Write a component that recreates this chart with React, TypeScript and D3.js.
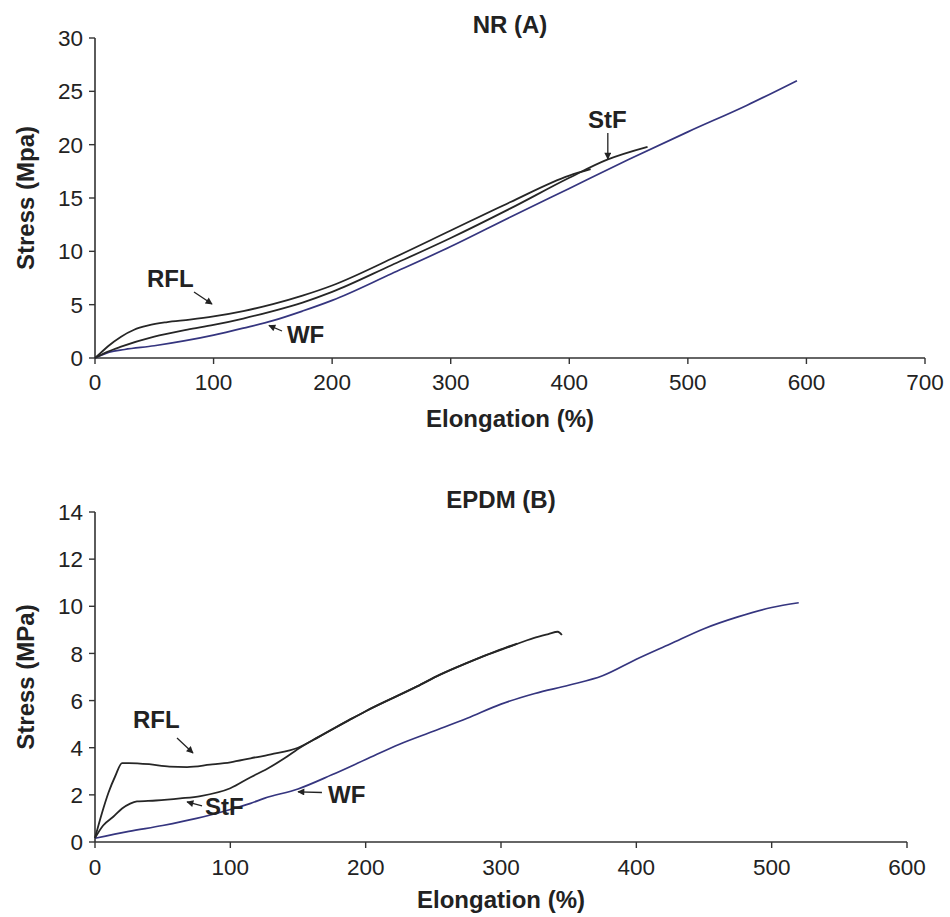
import React from 'react';
import * as d3 from 'd3';

type Pt = [number, number];

// NR (A) – stress (MPa) vs elongation (%)
const nrRFL: Pt[] = [[0,0],[5,0.5],[11,1.1],[22,2.0],[33,2.65],[45,3.05],[60,3.35],[80,3.6],[100,3.9],[125,4.4],[150,5.05],[175,5.85],[200,6.8],[250,9.3],[300,11.95],[350,14.6],[400,17.1],[418,17.7]];
const nrStF: Pt[] = [[0,0],[11,0.6],[22,1.06],[50,2.0],[78,2.65],[100,3.1],[125,3.7],[150,4.4],[175,5.2],[200,6.2],[250,8.7],[300,11.25],[350,14.0],[400,16.9],[432,18.6],[466,19.8]];
const nrWF: Pt[] = [[0,0],[12,0.55],[25,0.8],[50,1.15],[75,1.6],[100,2.15],[125,2.8],[150,3.5],[175,4.4],[200,5.4],[250,7.9],[300,10.45],[350,13.2],[400,15.9],[450,18.6],[500,21.2],[550,23.7],[592,26.0]];

// EPDM (B)
const epRFL: Pt[] = [[0,0.17],[5,1.2],[10,2.1],[15,2.8],[20,3.35],[25,3.35],[40,3.3],[55,3.2],[68,3.18],[85,3.28],[100,3.38],[115,3.55],[130,3.72],[150,4.0],[165,4.45],[188,5.18],[200,5.55],[238,6.6],[255,7.1],[275,7.6],[290,7.95],[305,8.28],[312,8.42]];
const epStF: Pt[] = [[0,0.17],[6,0.7],[13.5,1.07],[20,1.42],[26,1.63],[31,1.72],[45,1.76],[63,1.85],[78,1.95],[100,2.28],[115,2.75],[127,3.1],[140,3.55],[152,4.02],[165,4.45],[188,5.18],[200,5.55],[238,6.6],[255,7.1],[275,7.6],[290,7.95],[307,8.3],[324,8.65],[335,8.82],[342,8.92],[345,8.78]];
const epWF: Pt[] = [[0,0.16],[25,0.45],[50,0.7],[75,1.0],[100,1.38],[115,1.64],[125,1.85],[150,2.25],[175,2.85],[200,3.5],[225,4.15],[250,4.7],[275,5.25],[300,5.85],[325,6.3],[350,6.65],[375,7.05],[400,7.75],[425,8.4],[450,9.05],[475,9.55],[500,9.95],[520,10.15]];

const nrXTicks = [0,100,200,300,400,500,600,700];
const nrYTicks = [0,5,10,15,20,25,30];
const epXTicks = [0,100,200,300,400,500,600];
const epYTicks = [0,2,4,6,8,10,12,14];

// annotations: label, text anchor point (data units), arrow from -> to (data units)
type Ann = { text: string; tx: number; ty: number; ax1: number; ay1: number; ax2: number; ay2: number };
const nrAnn: Ann[] = [
  { text: 'RFL', tx: 43.8, ty: 6.66, ax1: 83.5, ay1: 6.19, ax2: 98.7, ay2: 5.06 },
  { text: 'WF', tx: 161.9, ty: 1.41, ax1: 157.7, ay1: 2.53, ax2: 146.7, ay2: 3.05 },
  { text: 'StF', tx: 415.7, ty: 21.56, ax1: 432.5, ay1: 21.1, ax2: 432.5, ay2: 18.66 },
];
const epAnn: Ann[] = [
  { text: 'RFL', tx: 28.1, ty: 4.84, ax1: 60.6, ay1: 4.41, ax2: 72.4, ay2: 3.78 },
  { text: 'StF', tx: 81.3, ty: 1.15, ax1: 79.1, ay1: 1.53, ax2: 68, ay2: 1.7 },
  { text: 'WF', tx: 172.2, ty: 1.65, ax1: 167.7, ay1: 2.1, ax2: 150, ay2: 2.13 },
];

const FONT = '"Liberation Sans", Arial, Helvetica, sans-serif';
const BLACK = '#262626';
const BLUE = '#35357f';
const TICK_FS = 22.5;
const LABEL_FS = 24;

type PanelProps = {
  title: string; yLabel: string;
  left: number; right: number; top: number; bottom: number;
  xMax: number; yMax: number; xTicks: number[]; yTicks: number[];
  blacks: Pt[][]; blue: Pt[]; ann: Ann[];
  titleY: number; xTickY: number; xLabelY: number;
};

function Panel(p: PanelProps) {
  const x = d3.scaleLinear().domain([0, p.xMax]).range([p.left, p.right]);
  const y = d3.scaleLinear().domain([0, p.yMax]).range([p.bottom, p.top]);
  const line = d3.line<Pt>().x(d => x(d[0])).y(d => y(d[1])).curve(d3.curveMonotoneX);
  const cx = (p.left + p.right) / 2;
  const cy = (p.top + p.bottom) / 2;
  return (
    <g>
      <text x={cx} y={p.titleY} textAnchor="middle" fontFamily={FONT} fontWeight="bold" fontSize={LABEL_FS} fill="#222">{p.title}</text>
      {/* axes */}
      <line x1={p.left} x2={p.left} y1={p.top} y2={p.bottom} stroke="#333" strokeWidth={1.6} />
      <line x1={p.left} x2={p.right} y1={p.bottom} y2={p.bottom} stroke="#333" strokeWidth={1.6} />
      {p.yTicks.map(t => (
        <g key={'y' + t}>
          <line x1={p.left - 6} x2={p.left} y1={y(t)} y2={y(t)} stroke="#333" strokeWidth={1.4} />
          <text x={p.left - 12} y={y(t)} dy="0.36em" textAnchor="end" fontFamily={FONT} fontSize={TICK_FS} fill="#222">{t}</text>
        </g>
      ))}
      {p.xTicks.map(t => (
        <g key={'x' + t}>
          <line x1={x(t)} x2={x(t)} y1={p.bottom} y2={p.bottom + 6} stroke="#333" strokeWidth={1.4} />
          <text x={x(t)} y={p.xTickY} textAnchor="middle" fontFamily={FONT} fontSize={TICK_FS} fill="#222">{t}</text>
        </g>
      ))}
      <text x={cx} y={p.xLabelY} textAnchor="middle" fontFamily={FONT} fontWeight="bold" fontSize={LABEL_FS} fill="#222">Elongation (%)</text>
      <text transform={`translate(34,${cy}) rotate(-90)`} textAnchor="middle" fontFamily={FONT} fontWeight="bold" fontSize={LABEL_FS} fill="#222">{p.yLabel}</text>
      {/* curves */}
      <path d={line(p.blue) || ''} fill="none" stroke={BLUE} strokeWidth={1.7} />
      {p.blacks.map((s, i) => (
        <path key={i} d={line(s) || ''} fill="none" stroke={BLACK} strokeWidth={1.8} />
      ))}
      {/* annotations */}
      {p.ann.map(a => (
        <g key={a.text}>
          <text x={x(a.tx)} y={y(a.ty)} fontFamily={FONT} fontWeight="bold" fontSize={LABEL_FS} fill="#222">{a.text}</text>
          <line x1={x(a.ax1)} y1={y(a.ay1)} x2={x(a.ax2)} y2={y(a.ay2)} stroke="#222" strokeWidth={1.3} markerEnd="url(#arr)" />
        </g>
      ))}
    </g>
  );
}

export default function App() {
  return (
    <svg width={950} height={917} style={{ position: 'absolute', left: 0, top: 0, background: '#fff' }}>
      <defs>
        <marker id="arr" viewBox="0 0 10 10" refX="9" refY="5" markerUnits="userSpaceOnUse" markerWidth="8" markerHeight="7" orient="auto">
          <path d="M0,0 L10,5 L0,10 z" fill="#222" />
        </marker>
      </defs>
      <Panel title="NR (A)" yLabel="Stress (Mpa)" left={95} right={925} top={38} bottom={358}
        xMax={700} yMax={30} xTicks={nrXTicks} yTicks={nrYTicks}
        blacks={[nrRFL, nrStF]} blue={nrWF} ann={nrAnn}
        titleY={33} xTickY={390} xLabelY={427} />
      <Panel title="EPDM (B)" yLabel="Stress (MPa)" left={95} right={907} top={512} bottom={842}
        xMax={600} yMax={14} xTicks={epXTicks} yTicks={epYTicks}
        blacks={[epRFL, epStF]} blue={epWF} ann={epAnn}
        titleY={508} xTickY={875} xLabelY={908} />
    </svg>
  );
}
